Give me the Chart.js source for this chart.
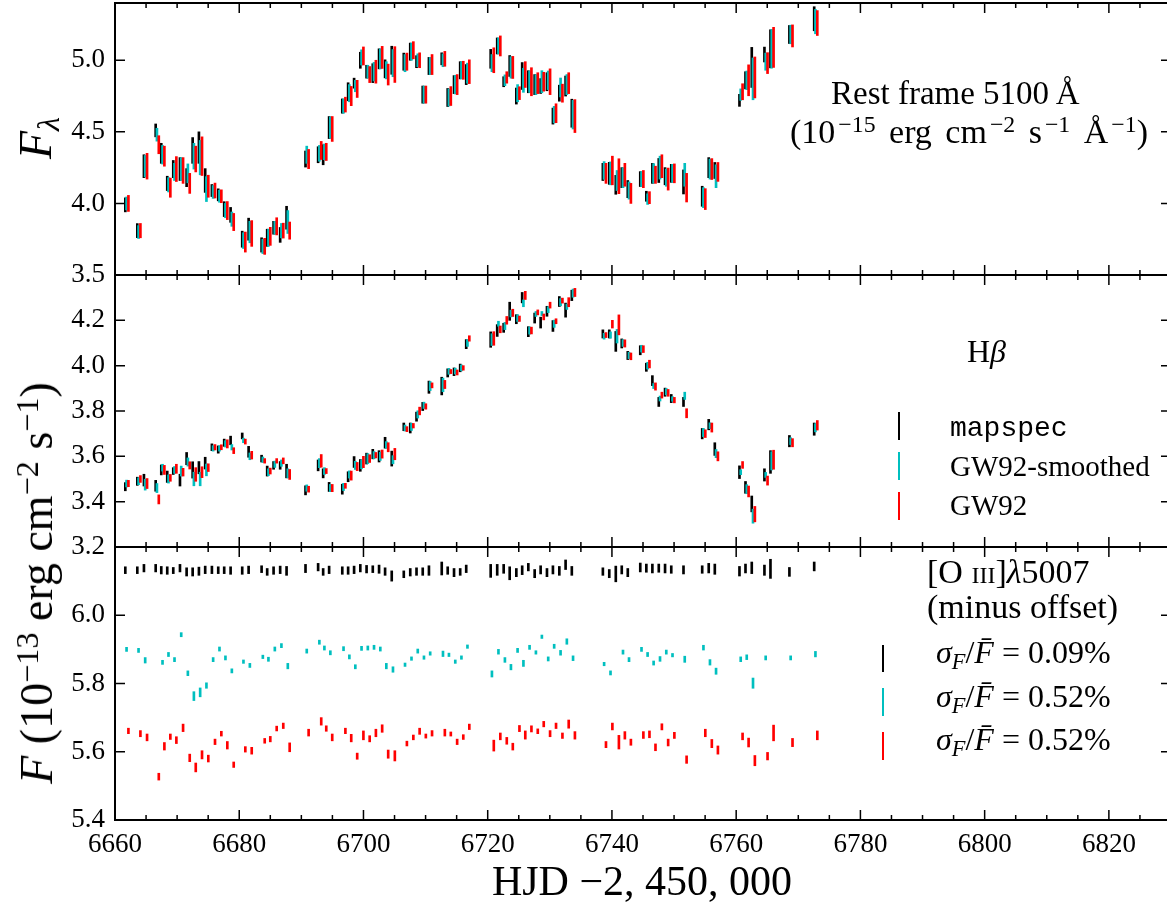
<!DOCTYPE html>
<html>
<head>
<meta charset="utf-8">
<script src="https://cdn.jsdelivr.net/npm/chart.js@4.4.0/dist/chart.umd.min.js"></script>
<style>
  html, body { margin: 0; padding: 0; background: #fff; }
  #wrap { position: relative; width: 1167px; height: 905px; overflow: hidden;
          font-family: "Liberation Serif", "Times New Roman", serif; color: #000; }
  #wrap canvas { position: absolute; left: 0; top: 0; }
  .t { position: absolute; white-space: nowrap; line-height: 1; }
  .rot { transform: translate(-50%, -50%) rotate(-90deg); }
  .mono { font-family: "Liberation Mono", "Courier New", monospace; }
  sup { font-size: 70%; vertical-align: 0.45em; line-height: 0; }
  sub { font-size: 70%; vertical-align: -0.25em; line-height: 0; }
  .wide { word-spacing: 5px; }
  .wide sup { margin-left: 3px; }
  .key { position: absolute; width: 2px; }
  .sc { font-variant: small-caps; }
</style>
</head>
<body>
<div id="wrap">
  <canvas id="cont" width="1180" height="905"></canvas>
  <canvas id="hb" width="1180" height="905"></canvas>
  <canvas id="o3" width="1180" height="905"></canvas>

  <div class="t rot" style="left:36px;top:138px;font-size:46px"><i>F</i><sub><i>λ</i></sub></div>
  <div class="t rot" style="left:37px;top:583px;font-size:46px"><i>F</i> (10<sup>−13</sup> erg cm<sup>−2</sup> s<sup>−1</sup>)</div>
  <div class="t" style="left:642px;top:860px;font-size:42px;transform:translateX(-50%)">HJD −2, 450, 000</div>

  <div class="t" style="left:831px;top:77px;font-size:33px">Rest frame 5100&thinsp;Å</div>
  <div class="t wide" style="left:790px;top:115px;font-size:34px">(10<sup>−15</sup> erg cm<sup>−2</sup> s<sup>−1</sup> Å<sup>−1</sup>)</div>

  <div class="t" style="left:967px;top:335px;font-size:32px">H<i>β</i></div>
  <div class="key" style="left:898px;top:412px;height:28px;background:#000"></div>
  <div class="key" style="left:898px;top:452px;height:28px;background:#00bfbf"></div>
  <div class="key" style="left:898px;top:492px;height:28px;background:#ff0000"></div>
  <div class="t mono" style="left:950px;top:415px;font-size:28px">mapspec</div>
  <div class="t" style="left:950px;top:452px;font-size:29px">GW92-smoothed</div>
  <div class="t" style="left:950px;top:491px;font-size:29px">GW92</div>

  <div class="t" style="left:927px;top:555px;font-size:34px">[O <span class="sc">iii</span>]<i>λ</i>5007</div>
  <div class="t" style="left:927px;top:590px;font-size:34px">(minus offset)</div>
  <div class="key" style="left:882px;top:645px;height:27px;background:#000"></div>
  <div class="key" style="left:882px;top:688px;height:28px;background:#00bfbf"></div>
  <div class="key" style="left:882px;top:732px;height:28px;background:#ff0000"></div>
  <div class="t" style="left:936px;top:636px;font-size:32px"><i>σ</i><sub><i>F</i></sub>/<i>F&#x0304;</i> = 0.09%</div>
  <div class="t" style="left:936px;top:680px;font-size:32px"><i>σ</i><sub><i>F</i></sub>/<i>F&#x0304;</i> = 0.52%</div>
  <div class="t" style="left:936px;top:723px;font-size:32px"><i>σ</i><sub><i>F</i></sub>/<i>F&#x0304;</i> = 0.52%</div>
</div>

<script>
// observation epochs (HJD - 2,450,000)
const hjd = [
  6661.66, 6663.59, 6664.66, 6666.55, 6667.45, 6668.41, 6669.38, 6670.46, 6671.53, 6672.50,
  6673.51, 6674.52, 6675.60, 6676.62, 6677.58, 6678.61, 6680.48, 6681.51, 6683.60, 6684.50,
  6685.53, 6686.59, 6687.62, 6690.67, 6692.70, 6693.51, 6694.47, 6696.59, 6697.53, 6698.49,
  6699.49, 6700.50, 6701.50, 6702.51, 6703.48, 6704.55, 6706.49, 6707.53, 6708.54, 6709.54,
  6710.54, 6712.60, 6713.56, 6714.58, 6715.57, 6716.54, 6720.48, 6721.53, 6722.57, 6723.54,
  6724.61, 6725.55, 6726.54, 6727.56, 6728.52, 6729.54, 6730.50, 6731.53, 6732.54, 6733.54,
  6738.54, 6739.57, 6740.62, 6741.58, 6742.55, 6744.56, 6745.54, 6746.51, 6747.54, 6748.55,
  6749.55, 6751.52, 6754.53, 6755.58, 6756.56, 6760.53, 6761.50, 6762.51, 6764.55, 6765.52,
  6768.57, 6772.56
];

// 5100 A continuum
const contK = [
  3.99, 3.81, 4.26, 4.51, 4.35, 4.14, 4.24, 4.24, 4.18, 4.37,
  4.39, 4.16, 4.09, 4.06, 3.96, 3.92, 3.75, 3.82, 3.71, 3.76,
  3.83, 3.78, 3.90, 4.31, 4.34, 4.34, 4.53, 4.68, 4.78, 4.84,
  5.00, 4.92, 4.91, 5.01, 4.94, 5.00, 4.99, 5.06, 4.99, 4.76,
  4.96, 5.01, 4.74, 4.83, 4.93, 4.90, 5.01, 5.10, 4.85, 4.96,
  4.75, 4.89, 4.85, 4.83, 4.82, 4.85, 4.61, 4.77, 4.82, 4.63,
  4.22, 4.21, 4.13, 4.18, 4.10, 4.17, 4.05, 4.21, 4.23, 4.19,
  4.21, 4.15, 4.05, 4.25, 4.23, 4.72, 4.86, 4.95, 5.04, 5.08,
  5.18, 5.29
];
const contKErr = [
  .049, .049, .08, .045, .07, .05, .06, .08, .063, .09,
  .11, .083, .042, .042, .052, .052, .056, .077, .05, .06,
  .045, .052, .08, .056, .056, .07, .077, .05, .063, .035,
  .056, .045, .066, .07, .063, .098, .06, .06, .042, .06,
  .06, .042, .063, .063, .06, .07, .066, .056, .035, .073,
  .056, .094, .077, .07, .052, .063, .056, .056, .07, .098,
  .06, .077, .066, .07, .06, .052, .035, .07, .084, .06,
  .063, .084, .07, .07, .056, .042, .06, .14, .052, .133,
  .063, .084
];
const contC = [
  4.00, 3.80, 4.26, 4.48, 4.34, 4.13, 4.22, 4.24, 4.21, 4.33,
  4.32, 4.10, 4.08, 4.05, 3.95, 3.89, 3.74, 3.80, 3.70, 3.76,
  3.83, 3.81, 3.87, 4.34, 4.35, 4.36, 4.53, 4.68, 4.77, 4.82,
  5.02, 4.92, 4.92, 5.01, 4.93, 4.98, 4.98, 5.06, 5.00, 4.76,
  4.96, 5.00, 4.74, 4.83, 4.93, 4.91, 4.98, 5.10, 4.86, 4.95,
  4.77, 4.86, 4.85, 4.83, 4.85, 4.86, 4.62, 4.81, 4.83, 4.62,
  4.23, 4.21, 4.16, 4.18, 4.09, 4.17, 4.03, 4.21, 4.25, 4.18,
  4.21, 4.20, 4.04, 4.24, 4.19, 4.76, 4.86, 4.87, 4.99, 5.08,
  5.18, 5.27
];
const contCErr = [
  .045, .045, .075, .045, .065, .05, .06, .08, .066, .09,
  .12, .087, .045, .042, .05, .05, .055, .075, .05, .06,
  .045, .05, .08, .06, .055, .055, .075, .05, .06, .04,
  .053, .045, .065, .07, .06, .095, .06, .06, .045, .06,
  .06, .045, .06, .065, .06, .07, .06, .056, .038, .075,
  .06, .084, .075, .07, .077, .065, .058, .066, .07, .10,
  .062, .08, .07, .07, .06, .052, .037, .068, .08, .06,
  .063, .08, .07, .07, .08, .04, .065, .146, .06, .135,
  .065, .085
];
const contR = [
  4.00, 3.81, 4.26, 4.41, 4.33, 4.11, 4.24, 4.23, 4.14, 4.31,
  4.33, 4.12, 4.09, 4.05, 3.95, 3.87, 3.73, 3.79, 3.70, 3.77,
  3.84, 3.81, 3.81, 4.31, 4.37, 4.36, 4.52, 4.69, 4.75, 4.80,
  5.03, 4.90, 4.92, 5.02, 4.90, 4.97, 4.99, 5.07, 5.00, 4.76,
  4.97, 5.01, 4.75, 4.83, 4.93, 4.92, 5.00, 5.10, 4.88, 4.95,
  4.77, 4.90, 4.85, 4.84, 4.85, 4.85, 4.63, 4.77, 4.84, 4.61,
  4.21, 4.23, 4.19, 4.20, 4.07, 4.17, 4.04, 4.20, 4.26, 4.17,
  4.21, 4.11, 4.03, 4.24, 4.22, 4.78, 4.86, 4.88, 4.98, 5.09,
  5.17, 5.26
];
const contRErr = [
  .056, .05, .09, .063, .07, .067, .087, .09, .07, .09,
  .135, .077, .052, .045, .063, .06, .07, .09, .056, .063,
  .06, .052, .06, .067, .063, .06, .087, .052, .067, .06,
  .063, .056, .08, .077, .073, .125, .06, .06, .052, .06,
  .07, .052, .066, .07, .063, .083, .087, .07, .04, .077,
  .045, .09, .098, .073, .066, .09, .066, .063, .073, .115,
  .07, .10, .122, .08, .07, .06, .042, .06, .08, .077,
  .066, .10, .073, .073, .066, .056, .108, .143, .073, .14,
  .077, .087
];

// H beta
const hbK = [
  3.466, 3.49, 3.495, 3.47, 3.54, 3.51, 3.535, 3.495, 3.59, 3.54,
  3.55, 3.57, 3.64, 3.63, 3.66, 3.67, 3.69, 3.62, 3.59, 3.535,
  3.56, 3.56, 3.535, 3.45, 3.56, 3.525, 3.465, 3.455, 3.51, 3.575,
  3.56, 3.59, 3.61, 3.60, 3.66, 3.59, 3.73, 3.725, 3.775, 3.82,
  3.905, 3.91, 3.968, 3.973, 3.99, 4.095, 4.115, 4.155, 4.167, 4.24,
  4.205, 4.30, 4.15, 4.21, 4.19, 4.24, 4.175, 4.283, 4.245, 4.31,
  4.14, 4.14, 4.107, 4.098, 4.045, 4.068, 3.993, 3.934, 3.84, 3.883,
  3.855, 3.84, 3.70, 3.74, 3.632, 3.53, 3.463, 3.39, 3.518, 3.575,
  3.667, 3.72
];
const hbKErr = [
  .018, .018, .026, .024, .022, .025, .015, .026, .027, .036,
  .027, .026, .015, .016, .016, .019, .013, .024, .015, .022,
  .017, .017, .03, .02, .024, .02, .02, .022, .022, .024,
  .026, .024, .021, .025, .024, .033, .017, .022, .02, .018,
  .027, .039, .018, .017, .017, .02, .034, .026, .02, .04,
  .02, .023, .022, .022, .024, .022, .024, .022, .031, .023,
  .018, .018, .044, .02, .018, .02, .018, .022, .02, .018,
  .018, .02, .023, .023, .028, .028, .026, .035, .027, .05,
  .025, .027
];
const hbC = [
  3.48, 3.49, 3.475, 3.46, 3.55, 3.50, 3.54, 3.535, 3.575, 3.50,
  3.50, 3.54, 3.635, 3.635, 3.655, 3.64, 3.67, 3.60, 3.585, 3.53,
  3.565, 3.57, 3.525, 3.46, 3.57, 3.535, 3.46, 3.465, 3.52, 3.56,
  3.565, 3.59, 3.605, 3.60, 3.65, 3.585, 3.725, 3.73, 3.785, 3.825,
  3.91, 3.915, 3.975, 3.976, 3.99, 4.10, 4.115, 4.185, 4.175, 4.23,
  4.21, 4.275, 4.155, 4.228, 4.23, 4.247, 4.185, 4.28, 4.26, 4.32,
  4.13, 4.135, 4.13, 4.10, 4.045, 4.075, 4.00, 3.91, 3.855, 3.885,
  3.853, 3.867, 3.705, 3.735, 3.612, 3.53, 3.455, 3.336, 3.518, 3.58,
  3.667, 3.726
];
const hbCErr = [
  .015, .015, .024, .02, .015, .018, .015, .022, .018, .03,
  .03, .026, .012, .012, .014, .012, .01, .015, .012, .015,
  .014, .014, .02, .014, .02, .015, .016, .016, .016, .018,
  .02, .022, .016, .018, .015, .018, .013, .016, .016, .014,
  .02, .03, .013, .013, .013, .015, .026, .011, .016, .015,
  .015, .015, .016, .011, .009, .013, .016, .016, .012, .018,
  .013, .014, .03, .015, .014, .015, .015, .011, .011, .014,
  .01, .016, .018, .013, .018, .011, .02, .031, .011, .04,
  .015, .018
];
const hbR = [
  3.48, 3.50, 3.48, 3.41, 3.54, 3.505, 3.545, 3.53, 3.56, 3.52,
  3.53, 3.55, 3.64, 3.64, 3.655, 3.625, 3.665, 3.605, 3.58, 3.535,
  3.58, 3.58, 3.52, 3.455, 3.58, 3.535, 3.46, 3.47, 3.515, 3.555,
  3.575, 3.59, 3.605, 3.61, 3.64, 3.61, 3.72, 3.735, 3.80, 3.82,
  3.913, 3.917, 3.974, 3.97, 3.99, 4.12, 4.12, 4.16, 4.20, 4.233,
  4.207, 4.31, 4.155, 4.235, 4.215, 4.267, 4.196, 4.287, 4.28, 4.323,
  4.135, 4.183, 4.18, 4.098, 4.041, 4.073, 4.007, 3.908, 3.87, 3.88,
  3.848, 3.79, 3.70, 3.727, 3.60, 3.562, 3.445, 3.345, 3.493, 3.585,
  3.66, 3.737
];
const hbRErr = [
  .014, .015, .022, .02, .02, .015, .02, .017, .016, .03,
  .024, .017, .012, .011, .018, .013, .011, .017, .01, .013,
  .01, .013, .022, .013, .028, .011, .016, .011, .02, .018,
  .025, .017, .012, .018, .02, .025, .011, .01, .017, .012,
  .011, .018, .009, .011, .01, .012, .03, .015, .017, .016,
  .012, .018, .015, .011, .013, .013, .011, .011, .02, .018,
  .011, .017, .044, .016, .015, .015, .017, .016, .013, .015,
  .012, .02, .017, .02, .02, .015, .024, .034, .02, .042,
  .018, .021
];

// [O III] 5007 (minus offset)
const o3K = [
  6.132, 6.132, 6.138, 6.138, 6.132, 6.131, 6.131, 6.138, 6.127, 6.127,
  6.129, 6.133, 6.133, 6.132, 6.132, 6.131, 6.131, 6.133, 6.135, 6.127,
  6.131, 6.133, 6.130, 6.137, 6.141, 6.127, 6.133, 6.131, 6.131, 6.133,
  6.138, 6.135, 6.135, 6.135, 6.128, 6.115, 6.120, 6.126, 6.128, 6.128,
  6.131, 6.137, 6.131, 6.125, 6.127, 6.136, 6.130, 6.133, 6.136, 6.123,
  6.125, 6.132, 6.141, 6.122, 6.133, 6.125, 6.133, 6.130, 6.148, 6.130,
  6.128, 6.122, 6.121, 6.133, 6.125, 6.140, 6.138, 6.137, 6.138, 6.137,
  6.134, 6.133, 6.134, 6.138, 6.135, 6.129, 6.137, 6.139, 6.132, 6.136,
  6.127, 6.143
];
const o3KErr = [
  .010, .010, .011, .011, .011, .011, .009, .011, .012, .012,
  .012, .011, .011, .010, .010, .011, .011, .011, .010, .010,
  .011, .011, .013, .012, .011, .010, .011, .011, .011, .011,
  .011, .011, .010, .012, .011, .015, .010, .011, .011, .011,
  .014, .019, .011, .012, .010, .011, .019, .016, .013, .019,
  .012, .013, .011, .012, .012, .012, .012, .013, .014, .013,
  .011, .012, .023, .012, .012, .013, .012, .013, .012, .013,
  .011, .012, .011, .014, .015, .014, .013, .017, .015, .028,
  .013, .013
];
const o3C = [
  5.900, 5.897, 5.868, null, 5.862, 5.885, 5.870, 5.943, 5.830, 5.763,
  5.774, 5.794, 5.870, 5.901, 5.875, 5.837, 5.864, 5.853, 5.878, 5.871,
  5.901, 5.911, 5.851, 5.895, 5.921, 5.904, 5.890, 5.902, 5.878, 5.849,
  5.903, 5.904, 5.906, 5.901, 5.851, 5.841, 5.855, 5.873, 5.895, 5.876,
  5.888, 5.887, 5.884, 5.864, 5.876, 5.908, 5.828, 5.893, 5.869, 5.848,
  5.897, 5.859, 5.906, 5.891, 5.937, 5.872, 5.909, 5.890, 5.923, 5.874,
  5.857, 5.831, null, 5.892, 5.870, 5.900, 5.885, 5.860, 5.872, 5.892,
  5.883, 5.871, 5.905, 5.862, 5.836, 5.871, 5.877, 5.801, 5.875, null,
  5.875, 5.886
];
const o3CErr = [
  .006, .006, .008, .006, .006, .006, .006, .006, .007, .013,
  .013, .008, .006, .006, .006, .006, .005, .006, .005, .006,
  .006, .006, .008, .006, .006, .006, .006, .006, .006, .006,
  .006, .006, .006, .006, .008, .008, .005, .005, .006, .005,
  .005, .008, .005, .005, .005, .005, .009, .007, .007, .008,
  .006, .009, .006, .005, .005, .006, .006, .007, .008, .007,
  .005, .006, .006, .006, .006, .006, .006, .006, .007, .006,
  .005, .009, .007, .008, .009, .007, .007, .015, .006, .006,
  .006, .008
];
const o3R = [
  5.661, 5.653, 5.642, 5.527, 5.616, 5.644, 5.634, 5.670, 5.582, 5.554,
  5.591, 5.580, 5.629, 5.653, 5.619, 5.562, 5.607, 5.603, 5.632, 5.637,
  5.668, 5.676, 5.613, 5.656, 5.689, 5.668, 5.642, 5.661, 5.640, 5.587,
  5.648, 5.638, 5.655, 5.668, 5.593, 5.588, 5.624, 5.642, 5.660, 5.646,
  5.654, 5.656, 5.652, 5.629, 5.643, 5.673, 5.618, 5.645, 5.632, 5.615,
  5.668, 5.649, 5.667, 5.660, 5.681, 5.653, 5.676, 5.647, 5.681, 5.648,
  5.621, 5.674, 5.628, 5.648, 5.628, 5.649, 5.651, 5.613, 5.673, 5.627,
  5.648, 5.577, 5.655, 5.624, 5.605, 5.645, 5.627, 5.574, 5.587, 5.655,
  5.627, 5.648
];
const o3RErr = [
  .008, .009, .010, .010, .011, .008, .010, .011, .011, .013,
  .012, .010, .008, .007, .011, .008, .008, .010, .007, .008,
  .007, .008, .013, .010, .011, .008, .010, .008, .011, .009,
  .013, .009, .011, .011, .012, .015, .007, .007, .009, .006,
  .008, .010, .006, .008, .007, .008, .016, .010, .010, .010,
  .009, .012, .009, .007, .008, .009, .008, .008, .012, .011,
  .009, .010, .020, .011, .009, .010, .010, .010, .009, .010,
  .009, .011, .011, .012, .012, .010, .013, .015, .011, .023,
  .012, .013
];

// axes
const xTicks = [6660, 6680, 6700, 6720, 6740, 6760, 6780, 6800, 6820];
const contTicks = [3.5, 4.0, 4.5, 5.0];
const hbTicks = [3.2, 3.4, 3.6, 3.8, 4.0, 4.2];
const o3Ticks = [5.4, 5.6, 5.8, 6.0];

const SERIF = "'Liberation Serif', 'Times New Roman', serif";
Chart.defaults.font.family = SERIF;
Chart.defaults.color = '#000';

const BLACK = '#000000', CYAN = '#00bfbf', RED = '#ff0000';

// one set of error bars: floating bars from (v - e) to (v + e)
function errorBars(vals, errs, dx, color, order) {
  const pts = [];
  hjd.forEach((t, i) => {
    if (vals[i] === null) return;
    pts.push({x: t + dx, y: [vals[i] - errs[i], vals[i] + errs[i]]});
  });
  return {
    data: pts,
    backgroundColor: color,
    borderWidth: 0,
    barThickness: 2,
    grouped: false,
    order: order
  };
}

// frame with inward ticks on all four sides
const framePlugin = {
  id: 'frame',
  afterDatasetsDraw(chart) {
    const {ctx, chartArea: a} = chart;
    const x = chart.scales.x, y = chart.scales.y;
    ctx.save();
    ctx.strokeStyle = '#000';
    ctx.lineWidth = 1.5;
    ctx.beginPath();
    for (let v = x.min; v <= x.max; v += 5) {
      const px = x.getPixelForValue(v);
      const len = v % 20 === 0 ? 10 : 5;
      ctx.moveTo(px, a.top); ctx.lineTo(px, a.top + len);
      ctx.moveTo(px, a.bottom); ctx.lineTo(px, a.bottom - len);
    }
    y.ticks.forEach(t => {
      const py = y.getPixelForValue(t.value);
      ctx.moveTo(a.left, py); ctx.lineTo(a.left + 10, py);
      ctx.moveTo(a.right, py); ctx.lineTo(a.right - 10, py);
    });
    ctx.stroke();
    ctx.lineWidth = 2;
    ctx.strokeRect(a.left, a.top, a.right - a.left, a.bottom - a.top);
    ctx.restore();
  }
};

function makePanel(id, top, bottom, yMin, yMax, yTicks, showX, sets) {
  const xHeight = showX ? 60 : 0;
  new Chart(document.getElementById(id), {
    type: 'bar',
    data: {
      datasets: [
        errorBars(sets[0], sets[1], 0, BLACK, 2),
        errorBars(sets[2], sets[3], 0.2, CYAN, 1),
        errorBars(sets[4], sets[5], 0.5, RED, 0)
      ]
    },
    options: {
      responsive: false,
      animation: false,
      events: [],
      layout: { padding: { top: top, bottom: 905 - bottom - xHeight, left: 0, right: 9 } },
      plugins: { legend: { display: false }, tooltip: { enabled: false } },
      scales: {
        x: {
          type: 'linear',
          min: 6660,
          max: 6830,
          offset: false,
          grid: { display: false, drawTicks: false },
          border: { display: false },
          afterBuildTicks: s => { s.ticks = xTicks.map(v => ({value: v})); },
          afterFit: s => { s.height = xHeight; s.paddingLeft = 0; s.paddingRight = 0; },
          ticks: {
            display: showX,
            autoSkip: false,
            maxRotation: 0,
            padding: 9,
            font: { family: SERIF, size: 27 },
            callback: v => String(v)
          }
        },
        y: {
          type: 'linear',
          min: yMin,
          max: yMax,
          grid: { display: false, drawTicks: false },
          border: { display: false },
          afterBuildTicks: s => { s.ticks = yTicks.map(v => ({value: v})); },
          afterFit: s => { s.width = 115; s.paddingTop = 0; s.paddingBottom = 0; },
          ticks: {
            padding: 10,
            font: { family: SERIF, size: 27 },
            callback: v => v.toFixed(1)
          }
        }
      }
    },
    plugins: [framePlugin]
  });
}

makePanel('cont', 3, 275, 3.5, 5.4, contTicks, false,
  [contK, contKErr, contC, contCErr, contR, contRErr]);
makePanel('hb', 275, 547, 3.2, 4.4, hbTicks, false,
  [hbK, hbKErr, hbC, hbCErr, hbR, hbRErr]);
makePanel('o3', 547, 820, 5.4, 6.2, o3Ticks, true,
  [o3K, o3KErr, o3C, o3CErr, o3R, o3RErr]);
</script>
</body>
</html>
